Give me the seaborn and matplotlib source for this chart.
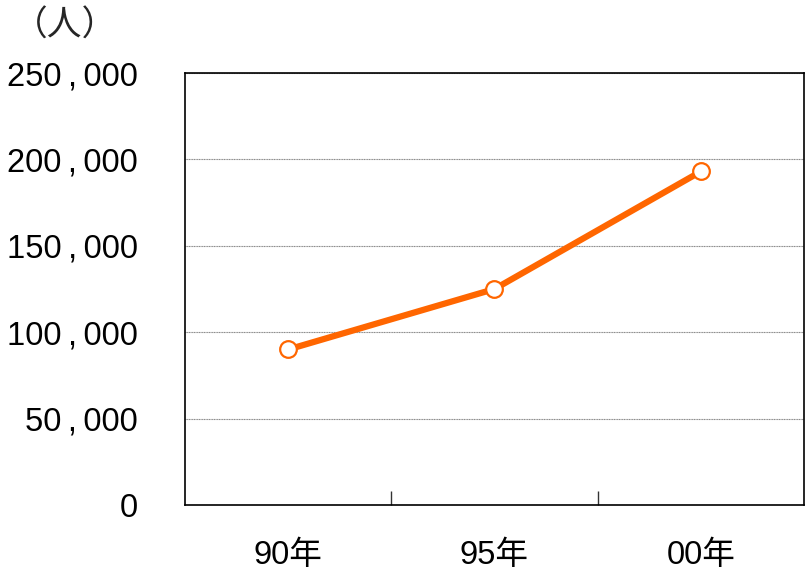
import matplotlib
matplotlib.use("Agg")
import matplotlib.pyplot as plt
import seaborn as sns
import pandas as pd
from matplotlib.ticker import FuncFormatter, FixedLocator

categories = ["90年", "95年", "00年"]
values = [90000, 125000, 193000]
y_ticks = [0, 50000, 100000, 150000, 200000, 250000]
unit_label = "（人）"

sns.set_theme(style="white")
plt.rcParams['font.family'] = ['Liberation Sans', 'Noto Sans CJK JP', 'DejaVu Sans']

df = pd.DataFrame({"cat": categories, "val": values})

fig = plt.figure(figsize=(8.07, 5.72), dpi=100)
ax = fig.add_axes([185/807, 1-505/572, (804-185)/807, (505-73)/572])

sns.lineplot(data=df, x="cat", y="val", ax=ax, color="#FF6600", linewidth=4.5,
             marker="o", markersize=12, markerfacecolor="white",
             markeredgecolor="#FF6600", markeredgewidth=1.6, sort=False)

ax.set_xlim(-0.5, 2.5)
ax.set_ylim(0, 250000)
ax.set_yticks(y_ticks)
ax.yaxis.set_major_formatter(FuncFormatter(lambda v, p: f"{int(v):,}".replace(",", "\u2009,\u2009")))
ax.yaxis.grid(True, color="#888888", linewidth=0.8, linestyle=(0, (1, 0.5)))
ax.set_axisbelow(True)
ax.set_xlabel("")
ax.set_ylabel("")

ax.tick_params(axis="y", length=0, pad=34, labelsize=23.5, colors="black")
ax.tick_params(axis="x", which="major", length=0, pad=25, labelsize=23.5, colors="black")
ax.xaxis.set_minor_locator(FixedLocator([0.5, 1.5]))
ax.tick_params(axis="x", which="minor", direction="in", length=10, width=1, color="#333333", bottom=True)

for s in ax.spines.values():
    s.set_visible(True)
    s.set_color("black")
    s.set_linewidth(1.2)

fig.text(65/807, 1-26/572, unit_label, ha="center", va="center", fontsize=25,
         family=['Noto Sans CJK JP', 'DejaVu Sans'])

fig.savefig("out.png", dpi=100, facecolor="white")
